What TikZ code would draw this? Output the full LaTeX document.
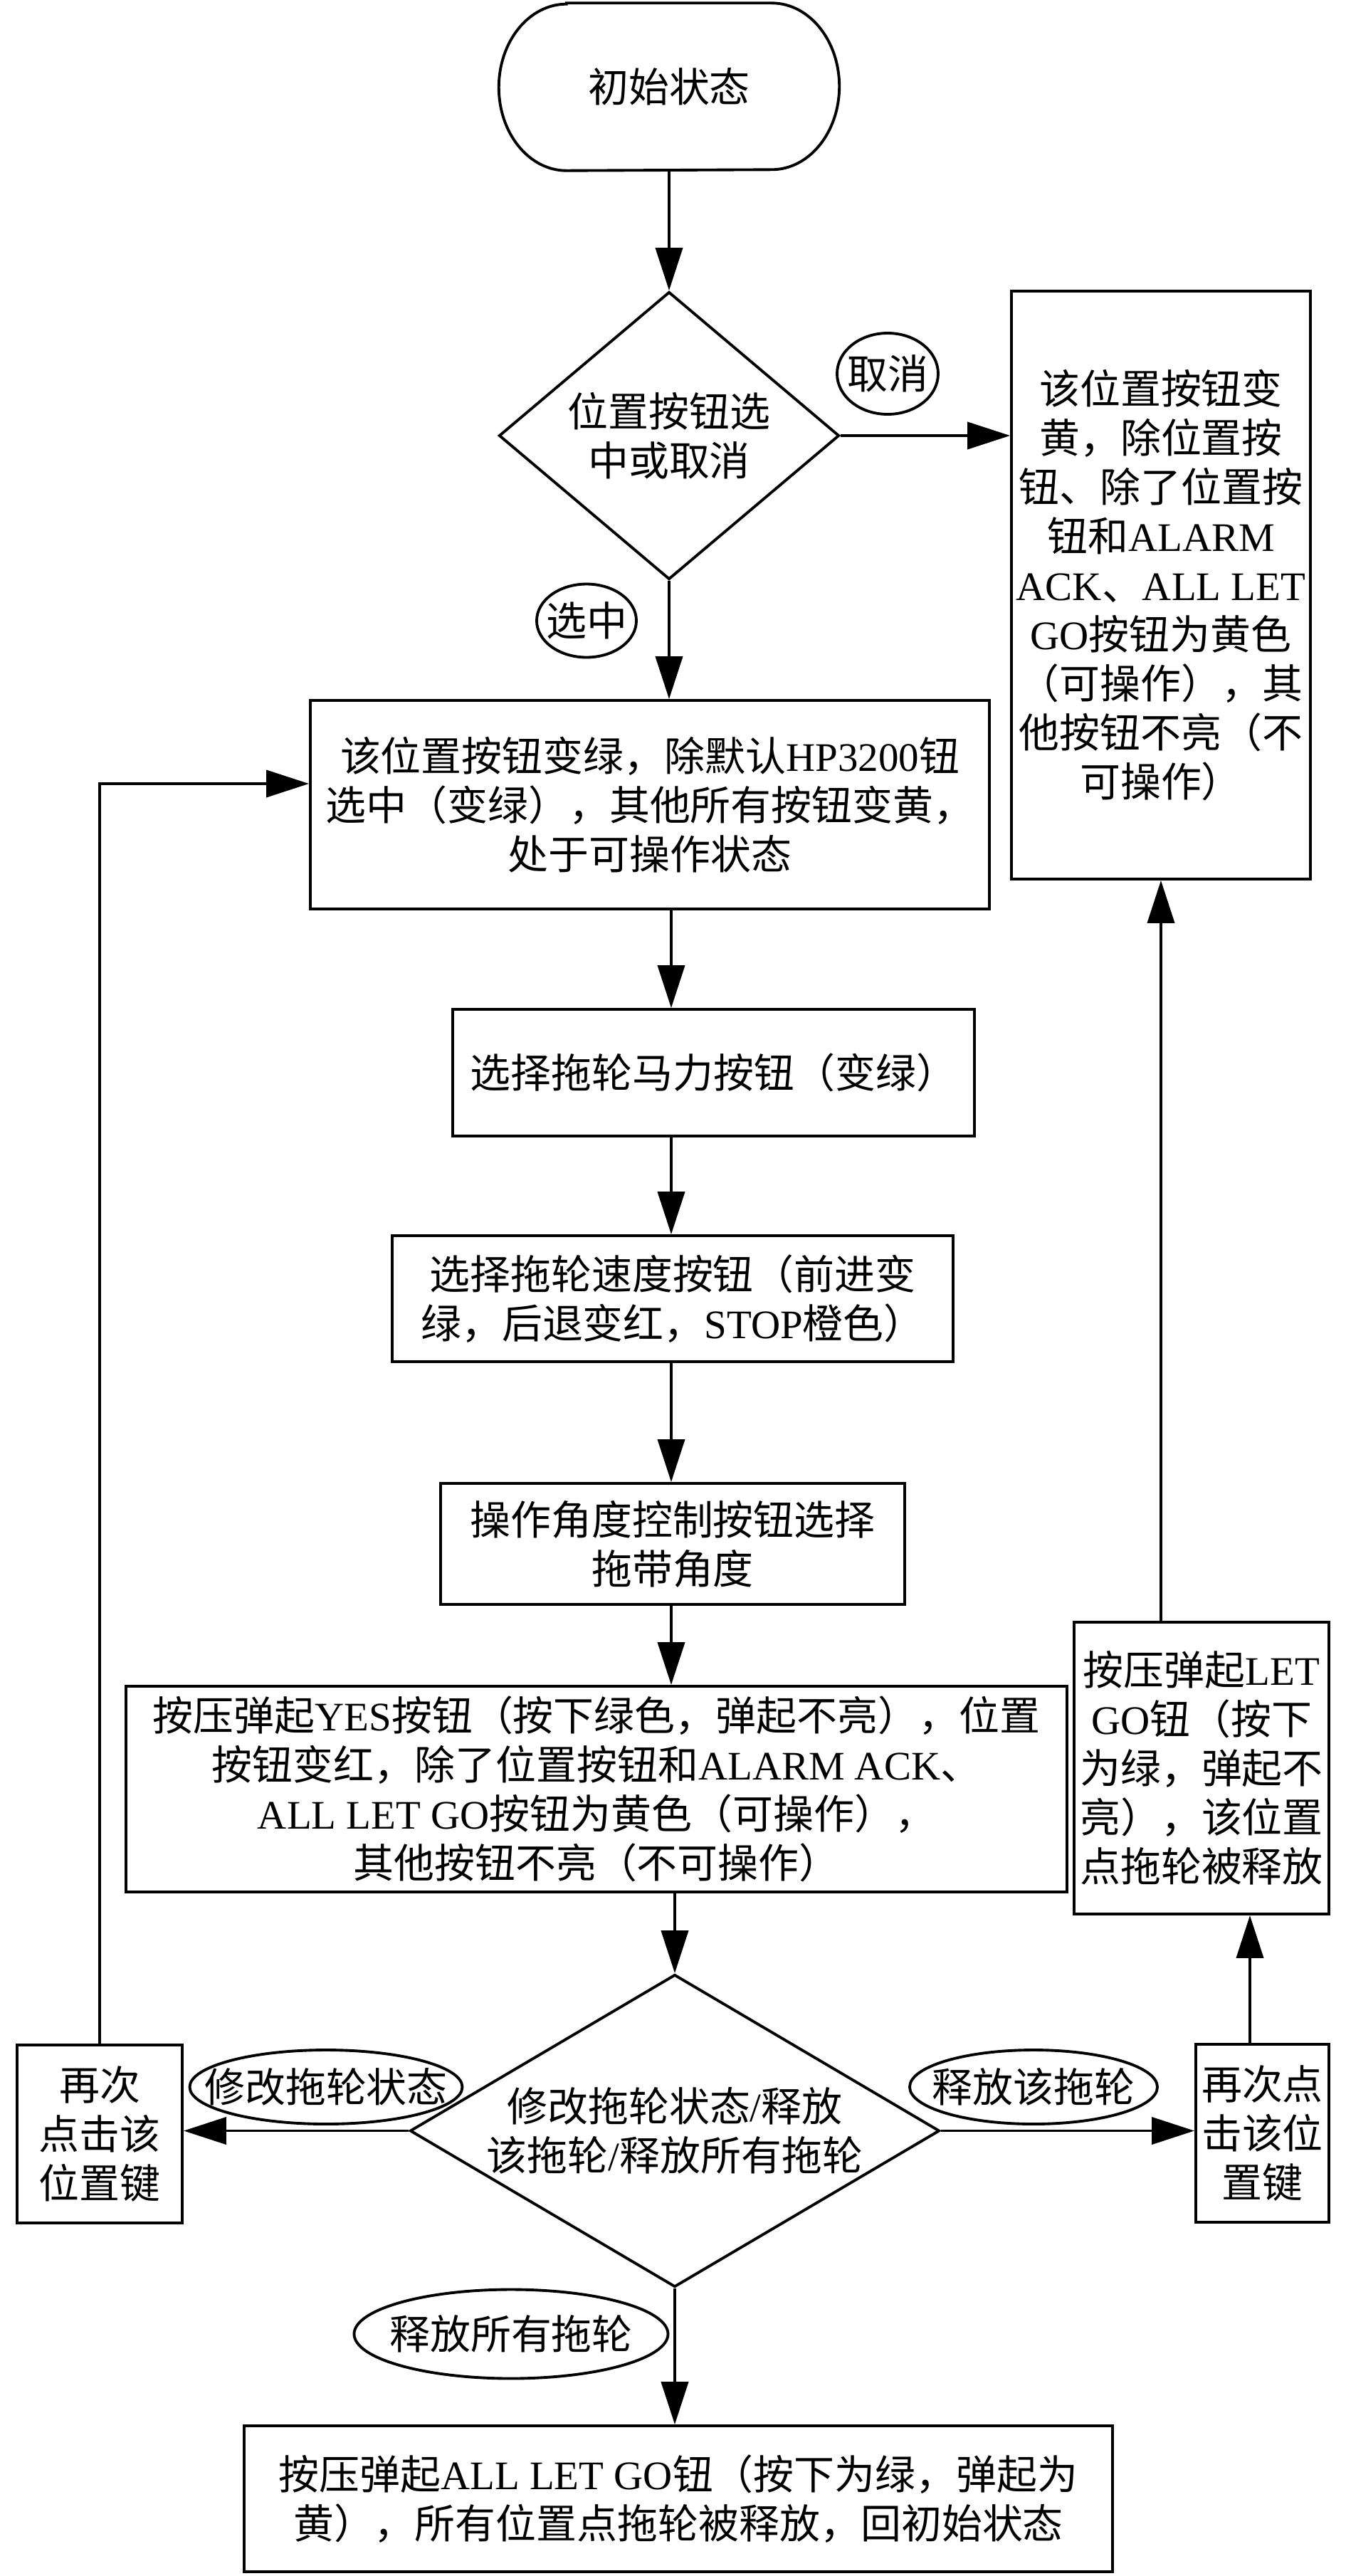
\documentclass[tikz,border=0pt]{standalone}
\usepackage{fontspec}
\setmainfont{Noto Sans CJK SC}
\newfontfamily\lat{Liberation Serif}
\newcommand{\en}[1]{{\lat #1}}
\usetikzlibrary{shapes,arrows.meta,positioning,calc}

\tikzset{
    box/.style={draw, line width=1.1pt, rectangle, align=center, inner sep=0pt},
    decide/.style={draw, line width=1.1pt, diamond, align=center, inner sep=0pt},
    tag/.style={draw, line width=1.1pt, ellipse, inner sep=0pt},
    arr/.style={line width=1.1pt, -{Triangle[length=6mm,width=3.8mm]}},
}

\begin{document}
\begin{tikzpicture}[font=\fontsize{16.2pt}{19.6pt}\selectfont]
    \useasboundingbox (0,0) rectangle (18.9,-36.19);
    \coordinate (axis) at (9.43,0); % main column
    \coordinate (upB) at (17.56,0);

    \node[minimum width=4.77cm, minimum height=2.34cm] (start) at (9.40,-1.22) {初始状态};
    \draw[line width=1.1pt] ([xshift=9.5mm]start.north west) -- ([xshift=-9.5mm]start.north east)
        arc[start angle=90, end angle=-90, x radius=9.5mm, y radius=11.7mm]
        -- ([xshift=9.5mm]start.south west)
        arc[start angle=270, end angle=90, x radius=9.5mm, y radius=11.7mm] -- cycle; % terminal outline

    \node[decide, aspect=1.18, minimum width=4.78cm, minimum height=4.04cm] (choose) at (9.40,-6.12) {位置按钮选\\中或取消};
    \node[tag, minimum width=1.42cm, minimum height=1.14cm] (tCancel) at (12.47,-5.25) {\makebox[0pt]{取消}};
    \node[box, minimum width=4.20cm, minimum height=8.26cm] (yellow) at (16.31,-8.22) {该位置按钮变\\黄，除位置按\\钮、除了位置按\\钮和\en{ALARM}\\\en{ACK}、\en{ALL LET}\\\en{GO}按钮为黄色\\（可操作），其\\他按钮不亮（不\\可操作）};
    \node[tag, minimum width=1.40cm, minimum height=1.03cm] (tSelect) at (8.24,-8.72) {\makebox[0pt]{选中}};

    \node[box, minimum width=9.54cm, minimum height=2.93cm] (green) at (9.13,-11.305) {该位置按钮变绿，除默认\en{HP3200}钮\\选中（变绿），其他所有按钮变黄，\\处于可操作状态};
    \node[box, minimum width=7.33cm, minimum height=1.78cm] (power) at (10.025,-15.07) {选择拖轮马力按钮（变绿）};
    \node[box, minimum width=7.88cm, minimum height=1.77cm] (speed) at (9.45,-18.245) {选择拖轮速度按钮（前进变\\绿，后退变红，\en{STOP}橙色）};
    \node[box, minimum width=6.52cm, minimum height=1.70cm] (angle) at (9.45,-21.69) {操作角度控制按钮选择\\拖带角度};
    \node[box, minimum width=13.22cm, minimum height=2.89cm] (confirm) at (8.38,-25.135) {按压弹起\en{YES}按钮（按下绿色，弹起不亮），位置\\按钮变红，除了位置按钮和\en{ALARM ACK}、\\\en{ALL LET GO}按钮为黄色（可操作），\\其他按钮不亮（不可操作）};
    \node[box, minimum width=3.58cm, minimum height=4.10cm] (letgo) at (16.88,-24.84) {按压弹起\en{LET}\\\en{GO}钮（按下\\为绿，弹起不\\亮），该位置\\点拖轮被释放};

    \node[decide, aspect=1.69, minimum width=7.44cm, minimum height=4.39cm] (modify) at (9.48,-29.935) {修改拖轮状态\en{/}释放\\该拖轮\en{/}释放所有拖轮};
    \node[box, minimum width=2.32cm, minimum height=2.50cm] (againL) at (1.40,-29.98) {再次\\点击该\\位置键};
    \node[box, minimum width=1.87cm, minimum height=2.50cm] (againR) at (17.735,-29.97) {再次点\\击该位\\置键};
    \node[tag, minimum width=3.83cm, minimum height=1.04cm] (tEdit) at (4.58,-29.32) {\makebox[0pt]{修改拖轮状态}};
    \node[tag, minimum width=3.48cm, minimum height=1.04cm] (tFree) at (14.52,-29.32) {\makebox[0pt]{释放该拖轮}};
    \node[tag, minimum width=4.41cm, minimum height=1.25cm] (tFreeAll) at (7.18,-32.79) {\makebox[0pt]{释放所有拖轮}};
    \node[box, minimum width=12.20cm, minimum height=2.05cm] (reset) at (9.53,-35.105) {按压弹起\en{ALL LET GO}钮（按下为绿，弹起为\\黄），所有位置点拖轮被释放，回初始状态};

    % connectors
    \draw[arr] (start.south) -- (choose.north);
    \draw[arr] (choose.east) -- (choose.east -| yellow.west);
    \draw[arr] (choose.south) -- (choose.south |- green.north);
    \draw[arr] (green.south -| axis) -- (power.north -| axis);
    \draw[arr] (power.south -| axis) -- (speed.north -| axis);
    \draw[arr] (speed.south -| axis) -- (angle.north -| axis);
    \draw[arr] (angle.south -| axis) -- (confirm.north -| axis);
    \draw[arr] (confirm.south -| modify.north) -- (modify.north);
    \draw[arr] (modify.west) -- (modify.west -| againL.east);
    \draw[arr] (modify.east) -- (modify.east -| againR.west);
    \draw[arr] (modify.south) -- (modify.south |- reset.north);
    \draw[arr] (againL.north) |- ([yshift=2.95mm]green.west); % back to selection
    \draw[arr] (againR.north -| upB) -- (letgo.south -| upB);
    \draw[arr] (letgo.north -| yellow.south) -- (yellow.south);
\end{tikzpicture}
\end{document}
